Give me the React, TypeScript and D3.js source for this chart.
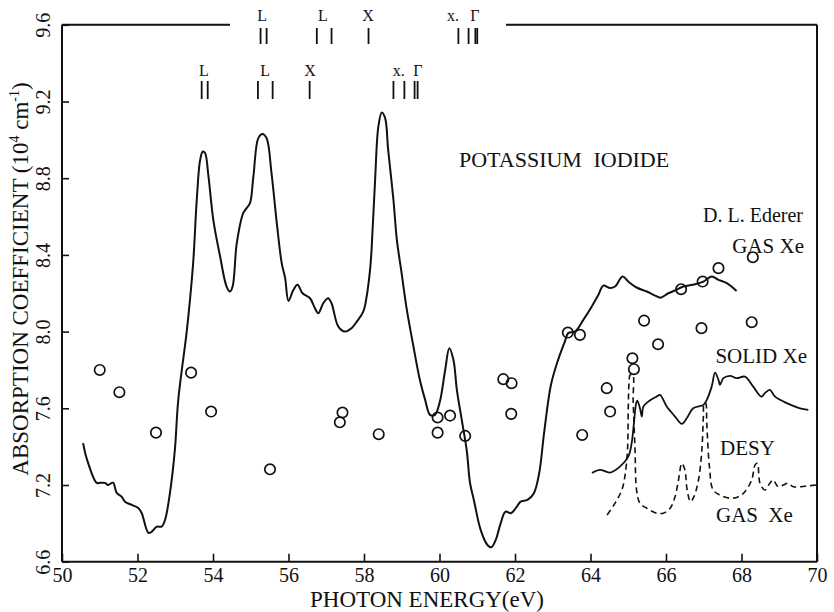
import React, { useEffect, useRef } from "react"
import * as d3 from "d3"

// absorption spectrum of KI, soft x-ray region
const kiEnergy = [
  50.56, 50.65, 50.92, 51.01, 51.14, 51.22, 51.35, 51.45, 51.58, 51.67, 51.85, 52.02, 52.11,
  52.29, 52.38, 52.51, 52.64, 52.73, 52.86, 52.99, 53.08, 53.3, 53.39, 53.48, 53.57, 53.66,
  53.73, 53.79, 53.88, 54.01, 54.19, 54.36, 54.45, 54.52, 54.63, 54.8, 54.89, 54.98, 55.07,
  55.2, 55.31, 55.42, 55.55, 55.69, 55.82, 55.91, 56.0, 56.13, 56.24, 56.37, 56.57, 56.7,
  56.79, 56.92, 57.05, 57.14, 57.32, 57.5, 57.67, 57.81, 57.98, 58.07, 58.16, 58.2, 58.29,
  58.38, 58.47, 58.56, 58.64, 58.78, 58.87, 59.0, 59.13, 59.31, 59.48, 59.62, 59.75, 59.88,
  60.01, 60.15, 60.26, 60.37, 60.46, 60.59, 60.72, 60.81, 60.91, 61.09, 61.27, 61.37, 61.49,
  61.62, 61.75, 61.89, 62.02, 62.15, 62.33, 62.5, 62.64, 62.77, 62.95, 63.12, 63.32, 63.41,
  63.59, 63.81, 64.03, 64.21, 64.34, 64.52, 64.65, 64.85, 65.0, 65.22, 65.49, 65.71, 65.86,
  66.06, 66.28, 66.46, 66.77, 66.99, 67.21, 67.39, 67.61, 67.87
]
const kiCoeff = [
  7.418, 7.341, 7.211, 7.212, 7.211, 7.2, 7.212, 7.159, 7.139, 7.113, 7.096, 7.08, 7.054,
  6.95, 6.957, 6.983, 6.983, 7.018, 7.159, 7.383, 7.644, 7.993, 8.165, 8.374, 8.687, 8.896,
  8.939, 8.931, 8.809, 8.58, 8.39, 8.235, 8.209, 8.235, 8.461, 8.618, 8.644, 8.67, 8.809,
  9.009, 9.031, 9.009, 8.826, 8.566, 8.357, 8.28, 8.16, 8.218, 8.244, 8.2, 8.174, 8.122,
  8.096, 8.148, 8.174, 8.148, 8.026, 8.0, 8.018, 8.052, 8.104, 8.183, 8.322, 8.426, 8.774,
  9.069, 9.143, 9.113, 8.948, 8.687, 8.48, 8.3, 8.12, 7.922, 7.748, 7.644, 7.566, 7.566,
  7.635, 7.8, 7.913, 7.852, 7.696, 7.539, 7.383, 7.209, 7.122, 6.966, 6.887, 6.875, 6.914,
  7.0, 7.061, 7.053, 7.079, 7.113, 7.122, 7.157, 7.261, 7.47, 7.72, 7.84, 7.948, 7.992,
  8.0, 8.061, 8.13, 8.192, 8.24, 8.227, 8.235, 8.287, 8.261, 8.23, 8.209, 8.188, 8.177,
  8.2, 8.218, 8.235, 8.247, 8.261, 8.287, 8.27, 8.253, 8.212
]

// D. L. Ederer, gas Xe (open circles)
const edererEnergy = [
  51.0, 51.52, 52.49, 53.42, 53.95, 55.51, 57.36, 57.43, 58.39, 59.95, 59.95, 60.28, 60.68,
  61.69, 61.91, 61.9, 63.4, 63.72, 63.78, 64.43, 64.52, 65.11, 65.15, 65.42, 65.79, 66.4,
  66.94, 66.97, 67.39, 68.27, 68.3
]
const edererCoeff = [
  7.8, 7.684, 7.473, 7.786, 7.583, 7.282, 7.527, 7.578, 7.465, 7.552, 7.473, 7.562, 7.456,
  7.752, 7.731, 7.571, 7.995, 7.983, 7.461, 7.705, 7.583, 7.861, 7.804, 8.057, 7.934, 8.221,
  8.018, 8.261, 8.331, 8.049, 8.388
]

// solid Xe (DESY)
const solidXeEnergy = [
  64.04, 64.25, 64.52, 64.78, 65.0, 65.09, 65.15, 65.21, 65.24, 65.31, 65.36, 65.4, 65.53,
  65.75, 65.84, 66.02, 66.24, 66.42, 66.55, 66.72, 66.99, 67.08, 67.21, 67.3, 67.39, 67.43,
  67.52, 67.7, 67.87, 68.09, 68.31, 68.53, 68.62, 68.75, 68.89, 69.2, 69.55, 69.77
]
const solidXeCoeff = [
  7.263, 7.279, 7.265, 7.296, 7.348, 7.418, 7.522, 7.627, 7.64, 7.6, 7.557, 7.609, 7.635,
  7.661, 7.67, 7.609, 7.557, 7.519, 7.548, 7.6, 7.618, 7.644, 7.713, 7.786, 7.748, 7.722,
  7.757, 7.769, 7.757, 7.765, 7.713, 7.661, 7.679, 7.696, 7.661, 7.627, 7.6, 7.592
]

// gas Xe (dashed)
const gasXeEnergy = [
  64.44, 64.65, 64.83, 64.91, 64.98, 65.0, 65.02, 65.05, 65.12, 65.13, 65.18, 65.22, 65.31,
  65.49, 65.75, 65.93, 66.11, 66.24, 66.33, 66.42, 66.5, 66.56, 66.65, 66.74, 66.86, 66.95,
  66.99, 67.01, 67.05, 67.08, 67.15, 67.25, 67.43, 67.7, 67.92, 68.09, 68.27, 68.36, 68.42,
  68.49, 68.62, 68.75, 68.84, 68.97, 69.11, 69.24, 69.37, 69.73, 69.99
]
const gasXeCoeff = [
  7.044, 7.105, 7.174, 7.244, 7.383, 7.592, 7.731, 7.774, 7.774, 7.644, 7.383, 7.174, 7.105,
  7.079, 7.053, 7.053, 7.079, 7.139, 7.226, 7.313, 7.279, 7.174, 7.113, 7.139, 7.226, 7.383,
  7.557, 7.627, 7.627, 7.522, 7.296, 7.174, 7.148, 7.131, 7.139, 7.165, 7.226, 7.305, 7.313,
  7.209, 7.174, 7.209, 7.226, 7.191, 7.2, 7.209, 7.191, 7.195, 7.2
]

// band-structure markers along the top
const lowerMarkText = ["L", "L", "X", "x.", "Γ"]
const lowerMarkTextEnergy = [53.76, 55.38, 56.57, 58.92, 59.43]
const lowerMarkBars = [53.7, 53.86, 55.19, 55.58, 56.56, 58.78, 59.07, 59.34, 59.42]
const upperMarkText = ["L", "L", "X", "x.", "Γ"]
const upperMarkTextEnergy = [55.3, 56.91, 58.11, 60.36, 60.94]
const upperMarkBars = [55.26, 55.42, 56.75, 57.14, 58.12, 60.5, 60.77, 60.95, 61.0]

const xTicks = [50, 52, 54, 56, 58, 60, 62, 64, 66, 68, 70]
const yTicks = [6.8, 7.2, 7.6, 8.0, 8.4, 8.8, 9.2, 9.6]
const yTickLabels = ["6.6", "7.2", "7.6", "8.0", "8.4", "8.8", "9.2", "9.6"]
const topLineGap = [54.45, 61.76]

const FONT = "Liberation Serif, DejaVu Serif, Noto Serif, Times New Roman, serif"
const INK = "#111"

function Axis({ axis, transform, rotate }: any) {
  const ref = useRef<SVGGElement>(null)
  useEffect(() => {
    const g = d3.select(ref.current).call(axis)
    g.select(".domain").remove()
    g.attr("font-family", FONT).attr("font-size", 20)
    g.selectAll(".tick line").attr("stroke", INK).attr("stroke-width", 1.6)
    g.selectAll(".tick text").attr("fill", INK)
    if (rotate) {
      g.selectAll(".tick text")
        .attr("x", 0)
        .attr("dy", 0)
        .attr("text-anchor", "middle")
        .attr("transform", "translate(-12,0) rotate(-90)")
    }
  }, [axis])
  return <g ref={ref} transform={transform} />
}

export default function App() {
  const W = 834
  const H = 612
  const x = d3.scaleLinear().domain([50, 70]).range([62, 817])
  const y = d3.scaleLinear().domain([6.8, 9.6]).range([561.7, 24.8])

  const path = (es: number[], vs: number[]) =>
    d3
      .line<[number, number]>()
      .x((d) => x(d[0]))
      .y((d) => y(d[1]))
      .curve(d3.curveCatmullRom.alpha(0.5))(es.map((e, i) => [e, vs[i]]) as [number, number][])

  const xAxis = d3
    .axisBottom(x)
    .tickValues(xTicks)
    .tickSizeInner(-8)
    .tickSizeOuter(0)
    .tickPadding(6)
  const yAxis = d3
    .axisLeft(y)
    .tickValues(yTicks)
    .tickFormat((d, i) => yTickLabels[i])
    .tickSizeInner(-7)
    .tickSizeOuter(0)

  const [x0, x1] = x.range()
  const yTop = y(9.6)
  const yBot = y(6.8)

  return (
    <svg
      width={W}
      height={H}
      style={{ position: "absolute", left: 0, top: 0, background: "#fff", fontFamily: FONT }}
    >
      {/* frame */}
      <g stroke={INK} strokeWidth={2} fill="none">
        <line x1={x0} y1={yTop} x2={x0} y2={yBot} />
        <line x1={x0} y1={yBot} x2={x1} y2={yBot} />
        <line x1={x1} y1={yTop} x2={x1} y2={yBot} />
        <line x1={x0} y1={yTop} x2={x(topLineGap[0])} y2={yTop} />
        <line x1={x(topLineGap[1])} y1={yTop} x2={x1} y2={yTop} />
      </g>

      <Axis axis={xAxis} transform={`translate(0,${yBot})`} />
      <Axis axis={yAxis} transform={`translate(${x0},0)`} rotate />

      {/* curves */}
      <path d={path(kiEnergy, kiCoeff) || ""} fill="none" stroke={INK} strokeWidth={2} />
      <path d={path(solidXeEnergy, solidXeCoeff) || ""} fill="none" stroke={INK} strokeWidth={1.8} />
      <path
        d={path(gasXeEnergy, gasXeCoeff) || ""}
        fill="none"
        stroke={INK}
        strokeWidth={1.6}
        strokeDasharray="6 4"
      />
      <g fill="none" stroke={INK} strokeWidth={1.7}>
        {edererEnergy.map((e, i) => (
          <circle key={i} cx={x(e)} cy={y(edererCoeff[i])} r={5.2} />
        ))}
      </g>

      {/* band markers */}
      <g fill={INK} fontSize={16} textAnchor="middle">
        {upperMarkText.map((t, i) => (
          <text key={"ut" + i} x={x(upperMarkTextEnergy[i])} y={21}>
            {t}
          </text>
        ))}
        {lowerMarkText.map((t, i) => (
          <text key={"lt" + i} x={x(lowerMarkTextEnergy[i])} y={76}>
            {t}
          </text>
        ))}
      </g>
      <g stroke={INK} strokeWidth={1.8}>
        {upperMarkBars.map((e, i) => (
          <line key={"ub" + i} x1={x(e)} x2={x(e)} y1={28} y2={44} />
        ))}
        {lowerMarkBars.map((e, i) => (
          <line key={"lb" + i} x1={x(e)} x2={x(e)} y1={81} y2={99} />
        ))}
      </g>

      {/* annotations */}
      <g fill={INK}>
        <text x={459} y={167} fontSize={22} wordSpacing={6}>
          POTASSIUM IODIDE
        </text>
        <text x={803} y={222} fontSize={20} textAnchor="end">
          D. L. Ederer
        </text>
        <text x={804} y={253} fontSize={21} textAnchor="end">
          GAS Xe
        </text>
        <text x={807} y={363} fontSize={21} textAnchor="end">
          SOLID Xe
        </text>
        <text x={720} y={455} fontSize={21}>
          DESY
        </text>
        <text x={716} y={522} fontSize={21} wordSpacing={5}>
          GAS Xe
        </text>
      </g>

      {/* axis titles */}
      <text x={427} y={607} fontSize={23} textAnchor="middle" fill={INK}>
        PHOTON ENERGY(eV)
      </text>
      <text
        transform={`translate(28,279) rotate(-90)`}
        fontSize={23}
        textAnchor="middle"
        fill={INK}
      >
        ABSORPTION COEFFICIENT (10
        <tspan fontSize={14} dy={-9}>4</tspan>
        <tspan dy={9}> cm</tspan>
        <tspan fontSize={14} dy={-9}>-1</tspan>
        <tspan dy={9}>)</tspan>
      </text>
    </svg>
  )
}
